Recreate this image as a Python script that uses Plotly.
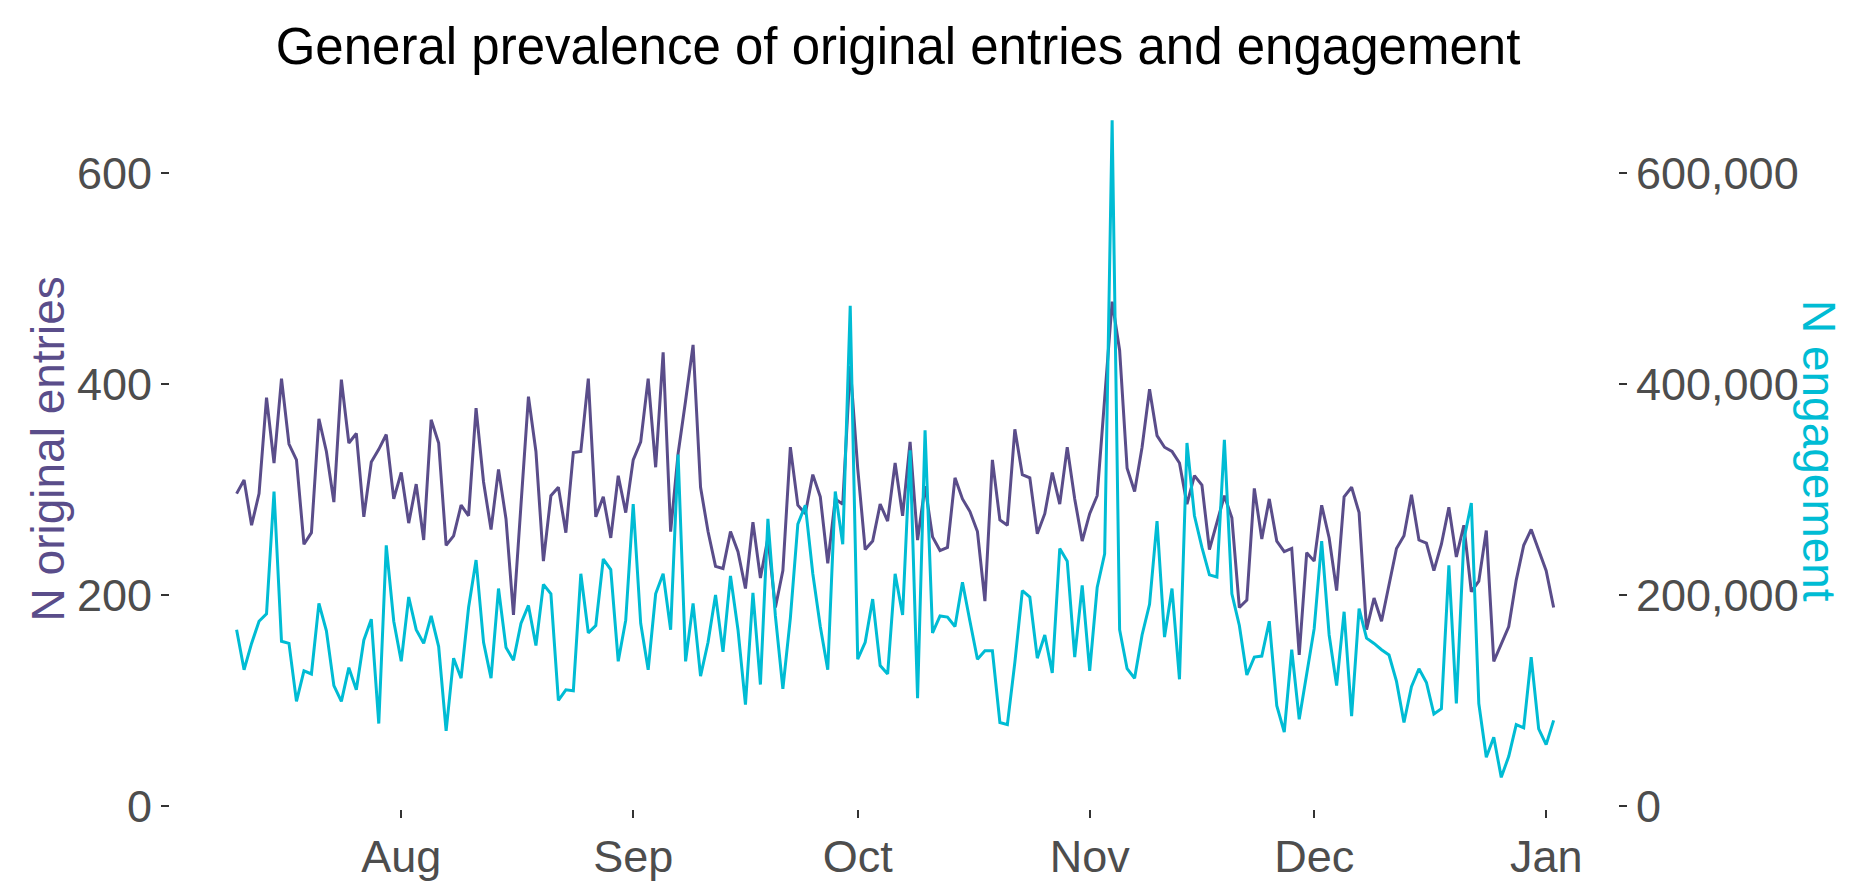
import pandas as pd
import plotly.graph_objects as go

# ---- data ----
start_date = "2022-07-10"
entries = [296, 309, 266, 296, 387, 325, 405, 343, 328, 248, 259, 367, 336, 288, 404, 344, 353, 274, 326, 338,
           352, 291, 316, 268, 305, 252, 366, 344, 247, 256, 285, 275, 377, 307, 262, 319, 272, 181, 285, 388,
           336, 232, 294, 302, 259, 335, 336, 405, 274, 293, 254, 313, 278, 328, 345, 405, 321, 430, 260, 334,
           384, 437, 302, 260, 227, 225, 260, 241, 206, 269, 216, 254, 188, 223, 340, 285, 277, 314, 293, 230,
           291, 286, 417, 320, 243, 251, 286, 270, 325, 275, 345, 252, 303, 255, 242, 245, 311, 291, 279, 260,
           194, 328, 271, 266, 357, 314, 311, 258, 277, 316, 286, 340, 291, 251, 277, 294, 386, 478, 432, 320,
           298, 340, 395, 351, 340, 336, 325, 286, 313, 304, 243, 269, 294, 273, 188, 195, 301, 253, 291, 251,
           241, 244, 143, 240, 232, 285, 254, 204, 293, 302, 278, 167, 197, 175, 210, 244, 256, 295, 252, 249,
           223, 248, 283, 236, 266, 203, 213, 261, 137, 153, 170, 214, 247, 262, 242, 223, 188]
engagement_k = [167, 129, 154, 175, 182, 298, 156, 154, 99, 128, 125, 192, 166, 114, 99, 131, 110, 157, 177, 78,
                247, 175, 137, 198, 167, 154, 180, 151, 71, 140, 121, 188, 233, 155, 121, 206, 150, 138, 173, 190,
                152, 210, 201, 100, 110, 109, 220, 164, 171, 234, 224, 137, 176, 286, 173, 129, 201, 220, 167, 333,
                137, 192, 123, 155, 200, 146, 218, 167, 96, 202, 115, 272, 180, 111, 178, 267, 285, 220, 170, 129,
                298, 248, 474, 139, 155, 196, 133, 125, 220, 181, 337, 102, 356, 164, 180, 179, 170, 212, 175, 139,
                147, 147, 79, 77, 136, 204, 198, 140, 162, 126, 244, 232, 141, 209, 128, 207, 239, 650, 167, 130,
                121, 162, 191, 270, 160, 206, 120, 344, 275, 245, 219, 217, 347, 201, 171, 124, 141, 142, 175, 95,
                70, 148, 82, 125, 168, 251, 162, 114, 184, 85, 187, 159, 154, 148, 143, 118, 79, 113, 130, 117,
                87, 92, 228, 97, 252, 287, 97, 46, 65, 27, 47, 77, 74, 141, 73, 58, 81]
engagement = [v * 1000 for v in engagement_k]

month_ticks = ["2022-08-01", "2022-09-01", "2022-10-01", "2022-11-01", "2022-12-01", "2023-01-01"]
month_labels = ["Aug", "Sep", "Oct", "Nov", "Dec", "Jan"]
left_ticks = [0, 200, 400, 600]
right_ticks = [0, 200000, 400000, 600000]

dates = pd.date_range(start_date, periods=len(entries), freq="D")

PURPLE = "#5A4D8A"
CYAN = "#00BCD4"
GREY = "#4D4D4D"
FONT = "Liberation Sans, Arial, sans-serif"

fig = go.Figure()
fig.add_trace(go.Scatter(x=dates, y=entries, mode="lines", line=dict(color=PURPLE, width=3),
                         name="N original entries", yaxis="y"))
fig.add_trace(go.Scatter(x=dates, y=engagement, mode="lines", line=dict(color=CYAN, width=3),
                         name="N engagement", yaxis="y2"))

L, R, T, B = 162, 1610, 79, 824
W = R - L
tick_style = dict(showgrid=False, zeroline=False, showline=False,
                  ticks="outside", ticklen=8, tickwidth=1.5, tickcolor="#333333",
                  tickfont=dict(family=FONT, size=45, color=GREY))

fig.update_layout(
    width=1852, height=886,
    margin=dict(l=L, r=1852 - R, t=T, b=886 - B),
    paper_bgcolor="white", plot_bgcolor="white",
    showlegend=False,
    font=dict(family=FONT, size=45, color=GREY),
    title=dict(text="General prevalence of original entries and engagement",
               font=dict(family=FONT, size=51, color="black"),
               x=890 / 1852, xanchor="center", xref="container",
               y=1 - 38 / 886, yanchor="middle", yref="container"),
    xaxis=dict(type="date",
               range=[dates[0] - pd.Timedelta(days=8.9), dates[-1] + pd.Timedelta(days=8.6)],
               tickvals=month_ticks, ticktext=month_labels, **tick_style),
    yaxis=dict(range=[-3, 681.5], tickvals=left_ticks, **tick_style),
    yaxis2=dict(range=[-3000, 681500], tickvals=right_ticks, tickformat=",",
                overlaying="y", side="right", **tick_style),
    annotations=[
        dict(text="N original entries", textangle=-90, xref="paper", yref="paper",
             x=(40 - L) / W, y=0.498, xanchor="center", yanchor="middle", showarrow=False,
             font=dict(family=FONT, size=46, color=PURPLE)),
        dict(text="N engagement", textangle=90, xref="paper", yref="paper",
             x=(1811 - L) / W, y=0.496, xanchor="center", yanchor="middle", showarrow=False,
             font=dict(family=FONT, size=46, color=CYAN)),
    ],
)

fig.write_html("out.html", config={"displayModeBar": False})
